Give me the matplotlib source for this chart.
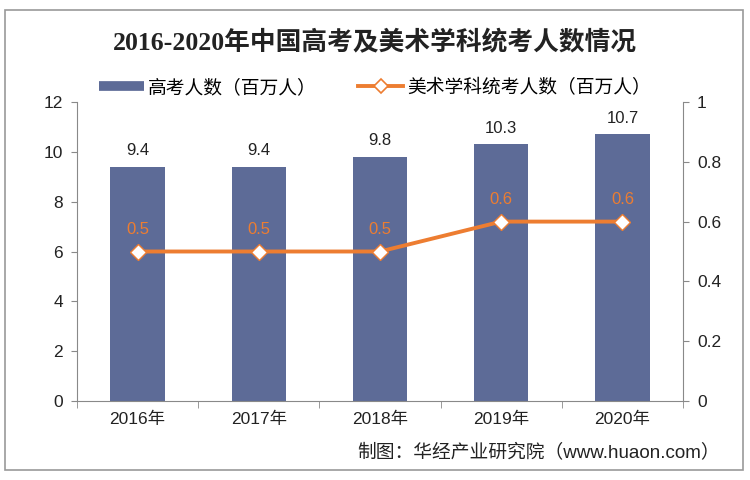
import numpy as np
import matplotlib.pyplot as plt
from matplotlib.patches import Rectangle
from matplotlib.lines import Line2D

plt.rcParams['font.family'] = ['Liberation Sans', 'Noto Sans CJK SC']

years = ["2016年", "2017年", "2018年", "2019年", "2020年"]
gaokao = [9.4, 9.4, 9.8, 10.3, 10.7]
meishu = [0.5, 0.5, 0.5, 0.6, 0.6]

bar_color = '#5D6B97'
line_color = '#ED7D31'
gray = '#898989'

fig = plt.figure(figsize=(7.5, 4.8), dpi=100)
ax = fig.add_axes([77/750, 1-401/480, 606/750, 299/480])
ax2 = ax.twinx()

x = np.arange(len(years))
ax.bar(x, gaokao, width=0.45, color=bar_color, zorder=2)
for xi, v in zip(x, gaokao):
    ax.text(xi, v + 0.35, f'{v}', ha='center', va='bottom', fontsize=12, color='#222222')

ax2.plot(x, meishu, color=line_color, lw=2.8, marker='D', markersize=8,
         markerfacecolor='white', markeredgecolor=line_color, markeredgewidth=1.0, zorder=3)
for xi, v in zip(x, meishu):
    ax2.text(xi, v + 0.05, f'{v}', ha='center', va='bottom', fontsize=12, color=line_color)

ax.set_xlim(-0.5, 4.5)
ax.set_ylim(0, 12)
ax.set_yticks(range(0, 13, 2))
ax2.set_ylim(0, 1)
ax2.set_yticks([0, 0.2, 0.4, 0.6, 0.8, 1])
ax2.set_yticklabels(['0', '0.2', '0.4', '0.6', '0.8', '1'])

ax.set_xticks(x)
ax.set_xticklabels(years)
ax.set_xticks(np.arange(-0.5, 5, 1), minor=True)
ax.tick_params(axis='x', which='major', length=0, pad=8, labelsize=12.5, colors='#222222')
ax.tick_params(axis='x', which='minor', length=5, color=gray)
ax.tick_params(axis='y', length=4, color=gray, labelsize=12.5, labelcolor='#222222', pad=6)
ax2.tick_params(axis='y', length=4, color=gray, labelsize=12.5, labelcolor='#222222', pad=6)

for a in (ax, ax2):
    a.spines['top'].set_visible(False)
    for s in ('left', 'right', 'bottom'):
        a.spines[s].set_color(gray)
ax.spines['right'].set_visible(False)
ax2.spines['left'].set_visible(False)
ax2.spines['bottom'].set_visible(False)

fig.text(0.5, 1-43/480, '2016-2020年中国高考及美术学科统考人数情况', ha='center', va='center',
         fontsize=18.5, fontweight='bold', color='#222222',
         family=['Liberation Serif', 'Noto Sans CJK SC'])

bar_handle = Line2D([], [], color=bar_color, lw=7, solid_capstyle='butt')
line_handle = Line2D([], [], color=line_color, lw=2.8, marker='D', markersize=7,
                     markerfacecolor='white', markeredgecolor=line_color, markeredgewidth=1.2)
fig.legend([bar_handle, line_handle], ['高考人数（百万人）', '美术学科统考人数（百万人）'], loc='center',
           bbox_to_anchor=(0.5, 1-88/480), ncol=2, frameon=False, fontsize=13.5,
           handlelength=2.4, columnspacing=2.2, handletextpad=0.2)

fig.text(720/750, 1-452/480, '制图：华经产业研究院（www.huaon.com）', ha='right', va='center',
         fontsize=13.5, color='#222222')

fig.patches.append(Rectangle((5/750, 1-470/480), 738/750, 460/480, transform=fig.transFigure,
                             fill=False, edgecolor='#999999', lw=1.2))

fig.savefig('out.png', dpi=100)
